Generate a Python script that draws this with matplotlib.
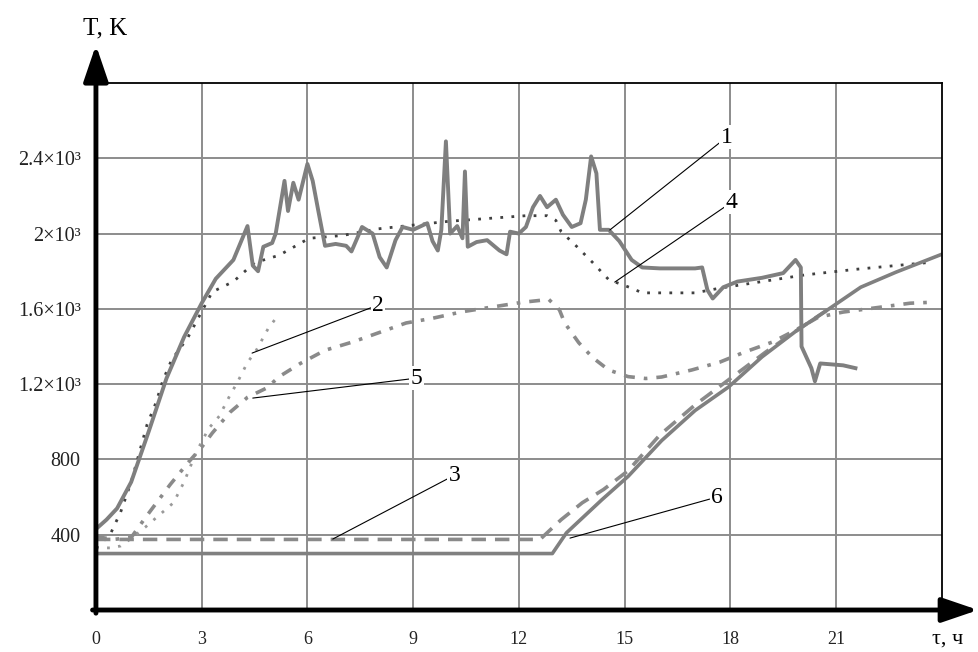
import matplotlib.pyplot as plt

plt.rcParams['font.family'] = ['Liberation Serif', 'DejaVu Serif']

# krzywa 1 - pomiar (szary, gruby, zaszumiony)
t1 = [0, 0.3, 0.6, 1.0, 1.5, 2.0, 2.5, 3.0, 3.4, 3.9, 4.3, 4.45, 4.6, 4.75, 5.0, 5.1,
      5.35, 5.45, 5.6, 5.75, 6.0, 6.15, 6.3, 6.5, 6.8, 7.1, 7.25, 7.55, 7.85, 8.05, 8.25,
      8.5, 8.7, 9.0, 9.4, 9.55, 9.7, 9.8, 9.93, 10.05, 10.25, 10.4, 10.47, 10.55, 10.8,
      11.1, 11.45, 11.65, 11.75, 12.0, 12.2, 12.4, 12.6, 12.8, 13.05, 13.25, 13.5, 13.75,
      13.9, 14.05, 14.2, 14.3, 14.55, 14.85, 15.2, 15.5, 16.0, 17.0, 17.2, 17.35, 17.5,
      17.8, 18.2, 18.9, 19.5, 19.75, 19.85, 20.0, 20.02, 20.3, 20.4, 20.55, 21.2, 21.55]
T1 = [430, 480, 540, 680, 950, 1230, 1450, 1630, 1760, 1860, 2040, 1830, 1800, 1930, 1950, 2000,
      2280, 2120, 2270, 2180, 2370, 2280, 2130, 1935, 1945, 1935, 1905, 2035, 2000, 1875, 1820,
      1965, 2035, 2020, 2055, 1960, 1910, 2020, 2490, 2000, 2040, 1975, 2330, 1930, 1955,
      1965, 1910, 1890, 2010, 2000, 2035, 2140, 2200, 2140, 2180, 2100, 2035, 2055,
      2180, 2410, 2320, 2020, 2020, 1960, 1860, 1820, 1815, 1815, 1820, 1700, 1655,
      1715, 1745, 1765, 1790, 1840, 1860, 1820, 1400, 1285, 1215, 1310, 1300, 1285]

# krzywa 2 (jasne kropki)
t2 = [0, 0.4, 0.7, 1.0, 1.4, 1.8, 2.2, 2.5, 2.85, 3.2, 3.5, 3.8, 4.0, 4.3, 4.55, 4.9, 5.15]
T2 = [330, 330, 340, 380, 440, 505, 570, 680, 840, 965, 1030, 1140, 1205, 1315, 1380, 1500, 1560]

# krzywa 3 (kreskowana)
t3 = [0, 12.6, 12.8, 13.2, 13.8, 14.4, 15.1, 16.0, 17.0, 18.0, 19.0, 20.0, 20.8]
T3 = [375, 375, 410, 480, 570, 640, 740, 930, 1090, 1230, 1370, 1500, 1600]

# krzywa 4 (ciemne kropki)
t4 = [0, 0.4, 0.7, 1.0, 1.45, 1.7, 1.9, 2.15, 2.6, 3.1, 3.3, 3.9, 4.5, 5.2, 6.05, 7.0,
      8.0, 9.0, 10.0, 11.1, 12.2, 12.8, 13.05, 13.2, 13.65, 14.1, 14.55, 15.2, 15.5,
      17.0, 17.7, 18.9, 20.1, 21.55, 23.55]
T4 = [330, 400, 520, 680, 985, 1100, 1220, 1330, 1445, 1620, 1690, 1745, 1845, 1885, 1975, 1990,
      2025, 2045, 2065, 2080, 2095, 2095, 2070, 2010, 1930, 1845, 1755, 1710, 1685,
      1685, 1710, 1745, 1780, 1810, 1845]

# krzywa 5 (kreska-kropka)
t5 = [0, 0.5, 1.0, 1.4, 2.1, 2.6, 3.0, 3.3, 3.8, 4.3, 4.85, 5.2, 5.8, 6.5, 7.3, 8.05, 8.8,
      9.55, 10.4, 11.25, 12.1, 12.85, 13.15, 13.3, 13.7, 14.1, 14.55, 15.1, 15.6, 16.05,
      16.9, 17.7, 18.4, 19.2, 19.85, 20.5, 21.2, 22.3, 23.1, 23.7]
T5 = [390, 375, 385, 490, 665, 780, 865, 940, 1050, 1130, 1180, 1240, 1310, 1380, 1425, 1475, 1525,
      1550, 1585, 1610, 1635, 1650, 1595, 1525, 1420, 1340, 1275, 1240, 1230, 1238,
      1275, 1317, 1370, 1424, 1487, 1556, 1583, 1610, 1630, 1635]

# krzywa 6 (ciagla)
t6 = [0, 12.95, 13.35, 14.35, 15.1, 16.05, 17.0, 17.95, 18.9, 19.85, 20.8, 21.7, 22.7, 24.0]
T6 = [300, 300, 410, 585, 710, 900, 1060, 1185, 1345, 1480, 1600, 1715, 1795, 1890]

x_ticks = [0, 3, 6, 9, 12, 15, 18, 21]
y_ticks = [400, 800, 1200, 1600, 2000, 2400]
y_labels = ["400", "800", "1.2×10³", "1.6×10³", "2×10³", "2.4×10³"]

fig = plt.figure(figsize=(9.79, 6.52), dpi=100)
ax = fig.add_axes([0.098, 0.0644, 0.864, 0.8083])
ax.set_xlim(0, 24)
ax.set_ylim(0, 2800)

ax.plot(t2, T2, color='#9a9a9a', lw=2.0, linestyle=(0, (1, 3)))
ax.plot(t4, T4, color='#404040', lw=2.0, linestyle=(0, (1, 3)))
ax.plot(t5, T5, color='#8a8a8a', lw=2.6, linestyle=(0, (3, 2.5, 1, 2.5)))
ax.plot(t3, T3, color='#8a8a8a', lw=2.6, linestyle=(0, (4, 2.5)))
ax.plot(t6, T6, color='#808080', lw=2.6)
ax.plot(t1, T1, color='#7f7f7f', lw=2.8)

# siatka
ax.set_xticks(x_ticks)
ax.set_yticks(y_ticks)
ax.set_xticklabels([str(v) for v in x_ticks])
ax.set_yticklabels(y_labels)
ax.grid(True, color='#8c8c8c', lw=1.4)
ax.set_axisbelow(True)
ax.tick_params(length=0, colors='#222222')
ax.tick_params(axis='x', pad=15, labelsize=13)
ax.tick_params(axis='y', pad=11, labelsize=14.5)

for s in ['top', 'right']:
    ax.spines[s].set_linewidth(1.3)
for s in ['left', 'bottom']:
    ax.spines[s].set_visible(False)

# osie ze strzalkami
arr = dict(arrowstyle='-|>,head_length=2.2,head_width=0.75', lw=3.5, color='black',
           shrinkA=0, shrinkB=0)
ax.annotate('', xy=(0, 1.072), xytext=(0, -0.006), xycoords='axes fraction', arrowprops=arr)
ax.annotate('', xy=(1.043, 0), xytext=(-0.004, 0), xycoords='axes fraction', arrowprops=arr)

fig.text(0.107, 0.957, "T, K", fontsize=18, ha='center', va='center')
fig.text(0.968, 0.02, "τ, ч", fontsize=16, ha='center', va='center')

# opisy krzywych
box = dict(facecolor='white', edgecolor='none', pad=1)
leader = dict(arrowstyle='-', lw=0.8, color='black', shrinkA=0, shrinkB=0)
ax.annotate("1", xy=(14.58, 2019), xytext=(17.9, 2513), fontsize=17, ha='center', va='center',
            bbox=box, arrowprops=leader)
ax.annotate("4", xy=(14.72, 1742), xytext=(18.04, 2167), fontsize=17, ha='center', va='center',
            bbox=box, arrowprops=leader)
ax.annotate("2", xy=(4.43, 1365), xytext=(8.0, 1620), fontsize=17, ha='center', va='center',
            bbox=box, arrowprops=leader)
ax.annotate("5", xy=(4.45, 1126), xytext=(9.1, 1232), fontsize=17, ha='center', va='center',
            bbox=box, arrowprops=leader)
ax.annotate("3", xy=(6.72, 377), xytext=(10.18, 717), fontsize=17, ha='center', va='center',
            bbox=box, arrowprops=leader)
ax.annotate("6", xy=(13.45, 382), xytext=(17.62, 600), fontsize=17, ha='center', va='center',
            bbox=box, arrowprops=leader)

fig.savefig("out.png", dpi=100)
